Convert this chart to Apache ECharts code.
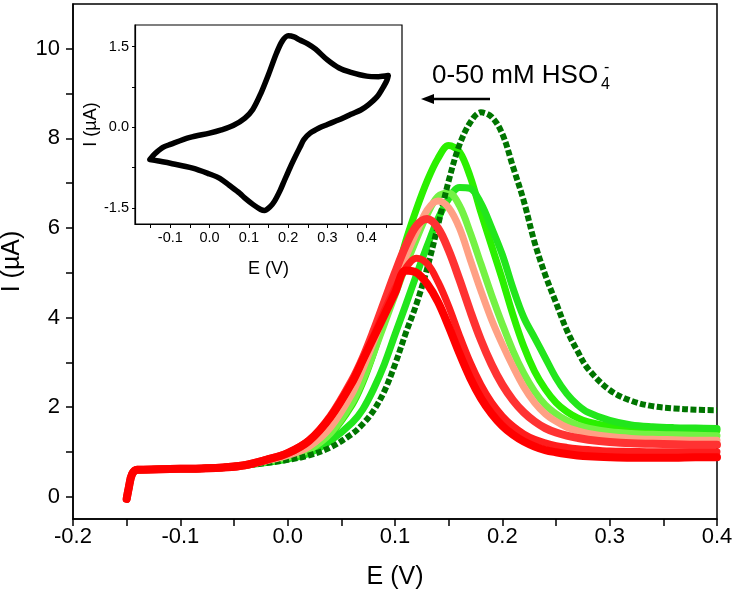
<!DOCTYPE html>
<html>
<head>
<meta charset="utf-8">
<script src="https://cdn.jsdelivr.net/npm/echarts@6/dist/echarts.min.js"></script>
<style>
html,body{margin:0;padding:0;background:#fff;}
#chart{width:734px;height:604px;}
</style>
</head>
<body>
<div id="chart"></div>
<script>
// ---- Main DPV data: potential grid (V) and current (µA) per curve ----
var E = [-0.15,-0.148,-0.145,-0.14,-0.12,-0.1,-0.08,-0.06,-0.04,-0.02,0,0.02,0.04,0.06,0.07,0.08,0.09,0.1,0.11,0.12,0.13,0.14,0.15,0.16,0.17,0.18,0.19,0.2,0.21,0.22,0.23,0.24,0.25,0.26,0.27,0.28,0.3,0.32,0.34,0.36,0.38,0.4];

var I_darkGreen = [-0.05,0.2,0.5,0.6,0.61,0.62,0.63,0.65,0.7,0.75,0.82,0.92,1.1,1.4,1.62,1.92,2.35,2.95,3.65,4.3,5.1,6.05,7.05,7.85,8.35,8.58,8.48,8.1,7.36,6.6,5.68,4.95,4.33,3.72,3.25,2.85,2.38,2.14,2.02,1.97,1.94,1.93];
var I_green1 = [-0.05,0.2,0.5,0.6,0.61,0.62,0.63,0.65,0.7,0.78,0.88,1.05,1.4,2.05,2.55,3.2,3.95,4.8,5.7,6.42,7.05,7.55,7.84,7.7,7.15,6.35,5.6,4.85,4.05,3.35,2.8,2.4,2.1,1.9,1.76,1.67,1.57,1.52,1.5,1.49,1.48,1.48];
var I_green2 = [-0.05,0.2,0.5,0.6,0.61,0.62,0.63,0.65,0.7,0.76,0.84,0.97,1.25,1.65,1.95,2.4,2.95,3.62,4.28,4.95,5.6,6.2,6.65,6.9,6.88,6.55,6.0,5.4,4.65,4.0,3.55,3.1,2.65,2.3,2.05,1.88,1.7,1.6,1.56,1.54,1.53,1.52];
var I_lightGreen = [-0.05,0.2,0.5,0.6,0.61,0.62,0.63,0.65,0.7,0.78,0.88,1.05,1.42,2.1,2.6,3.2,3.85,4.5,5.15,5.75,6.3,6.7,6.78,6.5,5.9,5.2,4.5,3.85,3.25,2.75,2.35,2.05,1.85,1.7,1.6,1.53,1.45,1.41,1.39,1.38,1.37,1.36];
var I_salmon = [-0.05,0.2,0.5,0.6,0.61,0.62,0.63,0.65,0.7,0.8,0.92,1.12,1.55,2.3,2.85,3.45,4.1,4.75,5.35,5.9,6.4,6.6,6.45,6.0,5.3,4.6,3.95,3.4,2.9,2.45,2.1,1.85,1.68,1.55,1.47,1.41,1.34,1.3,1.28,1.27,1.26,1.26];
var I_red1 = [-0.05,0.2,0.5,0.6,0.61,0.62,0.63,0.65,0.7,0.82,0.97,1.25,1.8,2.6,3.1,3.7,4.35,5.0,5.6,6.05,6.2,6.0,5.5,4.85,4.15,3.5,2.95,2.5,2.15,1.88,1.68,1.53,1.43,1.36,1.31,1.27,1.22,1.19,1.18,1.17,1.16,1.16];
var I_red2 = [-0.05,0.2,0.5,0.6,0.61,0.62,0.63,0.65,0.7,0.82,0.97,1.25,1.78,2.55,3.05,3.6,4.15,4.65,5.1,5.32,5.2,4.8,4.25,3.6,3.0,2.5,2.1,1.8,1.57,1.4,1.28,1.2,1.14,1.1,1.07,1.05,1.02,1.01,1.0,1.0,1.0,1.0];
var I_red3 = [-0.05,0.2,0.5,0.6,0.61,0.62,0.63,0.65,0.7,0.82,0.97,1.25,1.78,2.55,3.05,3.55,4.05,4.55,5.05,5.0,4.75,4.35,3.8,3.2,2.65,2.2,1.85,1.58,1.38,1.23,1.12,1.04,0.99,0.95,0.92,0.9,0.88,0.87,0.87,0.87,0.88,0.88];

// ---- Inset CV data ----
var insetE = [-0.152,-0.14,-0.12,-0.1,-0.05,0.0,0.03,0.06,0.09,0.11,0.13,0.15,0.17,0.185,0.2,0.215,0.23,0.25,0.27,0.3,0.33,0.36,0.4,0.43,0.455,
  0.452,0.445,0.427,0.405,0.385,0.36,0.34,0.32,0.3,0.28,0.256,0.24,0.231,0.22,0.205,0.19,0.18,0.165,0.154,0.14,0.13,0.111,0.09,0.077,0.05,0.026,0.0,-0.043,-0.1,-0.13,-0.152];
var insetI = [-0.6,-0.5,-0.38,-0.32,-0.19,-0.11,-0.05,0.03,0.17,0.33,0.62,0.98,1.37,1.6,1.7,1.68,1.62,1.55,1.45,1.25,1.1,1.02,0.95,0.94,0.96,
  0.88,0.78,0.57,0.42,0.32,0.24,0.17,0.11,0.05,-0.01,-0.11,-0.23,-0.36,-0.52,-0.75,-1.0,-1.17,-1.38,-1.48,-1.55,-1.53,-1.44,-1.32,-1.23,-1.08,-0.95,-0.87,-0.76,-0.67,-0.63,-0.6];

// ---- Tick values ----
var mainXLabels = [-0.2,-0.1,0.0,0.1,0.2,0.3,0.4];
var mainXTicks = [-0.2,-0.15,-0.1,-0.05,0,0.05,0.1,0.15,0.2,0.25,0.3,0.35,0.4];
var mainYLabels = [0,2,4,6,8,10];
var mainYTicks = [0,1,2,3,4,5,6,7,8,9,10];
var insetXLabels = [-0.1,0.0,0.1,0.2,0.3,0.4];
var insetXTicks = [-0.15,-0.1,-0.05,0,0.05,0.1,0.15,0.2,0.25,0.3,0.35,0.4,0.45];
var insetYLabels = [-1.5,0.0,1.5];
var insetYTicks = [-1.5,-0.75,0,0.75,1.5];

function pairs(xs, ys){ return xs.map(function(x,i){ return [x, ys[i]]; }); }

var FONT = '"Liberation Sans", Arial, sans-serif';

var curves = [
  {name:'green1', data:I_green1, color:'#2bf000', width:7},
  {name:'green2', data:I_green2, color:'#22e61c', width:7},
  {name:'lightGreen', data:I_lightGreen, color:'#74f244', width:7},
  {name:'darkGreen', data:I_darkGreen, color:'#007500', width:6, dash:[6,2.5]},
  {name:'salmon', data:I_salmon, color:'#ffa084', width:7},
  {name:'red1', data:I_red1, color:'#ff3232', width:8},
  {name:'red2', data:I_red2, color:'#ff1c1c', width:7},
  {name:'red3', data:I_red3, color:'#ff0000', width:8}
];

var series = curves.map(function(c){
  return {
    type:'line', name:c.name, xAxisIndex:0, yAxisIndex:0,
    data: pairs(E, c.data), smooth:0.35, showSymbol:false, symbol:'none',
    lineStyle:{color:c.color, width:c.width, type: c.dash ? c.dash : 'solid', cap: c.dash ? 'butt' : 'round', join:'round'},
    silent:true, animation:false, z:2
  };
});
series.push({
  type:'line', name:'CV', xAxisIndex:1, yAxisIndex:1,
  data: pairs(insetE, insetI), smooth:0.3, showSymbol:false, symbol:'none',
  lineStyle:{color:'#000', width:5.5, join:'round', cap:'round'},
  silent:true, animation:false, z:5
});

var axisLineStyle = {onZero:false, lineStyle:{color:'#000', width:1.5}};

var option = {
  backgroundColor:'#fff',
  animation:false,
  grid:[
    {left:73, top:4, width:644, height:515, show:true, borderColor:'#000', borderWidth:1.5, backgroundColor:'transparent', outerBoundsMode:'none', containLabel:false},
    {left:135, top:25, width:267, height:199, show:true, borderColor:'#000', borderWidth:1.2, backgroundColor:'#fff', z:4, outerBoundsMode:'none', containLabel:false}
  ],
  xAxis:[
    {type:'value', gridIndex:0, min:-0.2, max:0.4,
     name:'E (V)', nameLocation:'middle', nameGap:46,
     nameTextStyle:{fontFamily:FONT, fontSize:25, color:'#000'},
     axisLine:axisLineStyle,
     axisTick:{show:true, length:7, customValues:mainXTicks, lineStyle:{color:'#000', width:1.5}},
     axisLabel:{customValues:mainXLabels, fontFamily:FONT, fontSize:22, color:'#000', margin:7,
       formatter:function(v){ return v.toFixed(1); }},
     splitLine:{show:false}},
    {type:'value', gridIndex:1, min:-0.19, max:0.49,
     name:'E (V)', nameLocation:'middle', nameGap:36,
     nameTextStyle:{fontFamily:FONT, fontSize:18, color:'#000'},
     axisLine:{onZero:false, lineStyle:{color:'#000', width:1.2}},
     axisTick:{show:true, length:4, customValues:insetXTicks, lineStyle:{color:'#000', width:1}},
     axisLabel:{customValues:insetXLabels, fontFamily:FONT, fontSize:14.5, color:'#000', margin:6,
       formatter:function(v){ return v.toFixed(1); }},
     splitLine:{show:false}, z:5}
  ],
  yAxis:[
    {type:'value', gridIndex:0, min:-0.5, max:11,
     name:'I (µA)', nameLocation:'middle', nameGap:44,
     nameTextStyle:{fontFamily:FONT, fontSize:25, color:'#000'},
     axisLine:axisLineStyle,
     axisTick:{show:true, length:7, customValues:mainYTicks, lineStyle:{color:'#000', width:1.5}},
     axisLabel:{customValues:mainYLabels, fontFamily:FONT, fontSize:22, color:'#000', margin:13},
     splitLine:{show:false}},
    {type:'value', gridIndex:1, min:-1.8, max:1.9,
     name:'I (µA)', nameLocation:'middle', nameGap:34,
     nameTextStyle:{fontFamily:FONT, fontSize:18, color:'#000'},
     axisLine:{onZero:false, lineStyle:{color:'#000', width:1.2}},
     axisTick:{show:true, length:3, customValues:insetYTicks, lineStyle:{color:'#000', width:1}},
     axisLabel:{customValues:insetYLabels, fontFamily:FONT, fontSize:14.5, color:'#000', margin:6,
       formatter:function(v){ return v.toFixed(1); }},
     splitLine:{show:false}, z:5}
  ],
  series: series,
  graphic:[
    {type:'text', left:432, top:63, z:10,
     style:{text:'0-50 mM HSO', fontFamily:FONT, fontSize:26, fill:'#000'}},
    {type:'text', left:601, top:77, z:10,
     style:{text:'4', fontFamily:FONT, fontSize:16, fill:'#000'}},
    {type:'text', left:604, top:60, z:10,
     style:{text:'-', fontFamily:FONT, fontSize:16, fill:'#000'}},
    {type:'line', z:10, shape:{x1:490, y1:99, x2:430, y2:99}, style:{stroke:'#000', lineWidth:2.5}},
    {type:'polygon', z:10, shape:{points:[[421,99],[434,94],[434,104]]}, style:{fill:'#000'}}
  ]
};

var chart = echarts.init(document.getElementById('chart'), null, {renderer:'canvas'});
chart.setOption(option);
</script>
</body>
</html>
